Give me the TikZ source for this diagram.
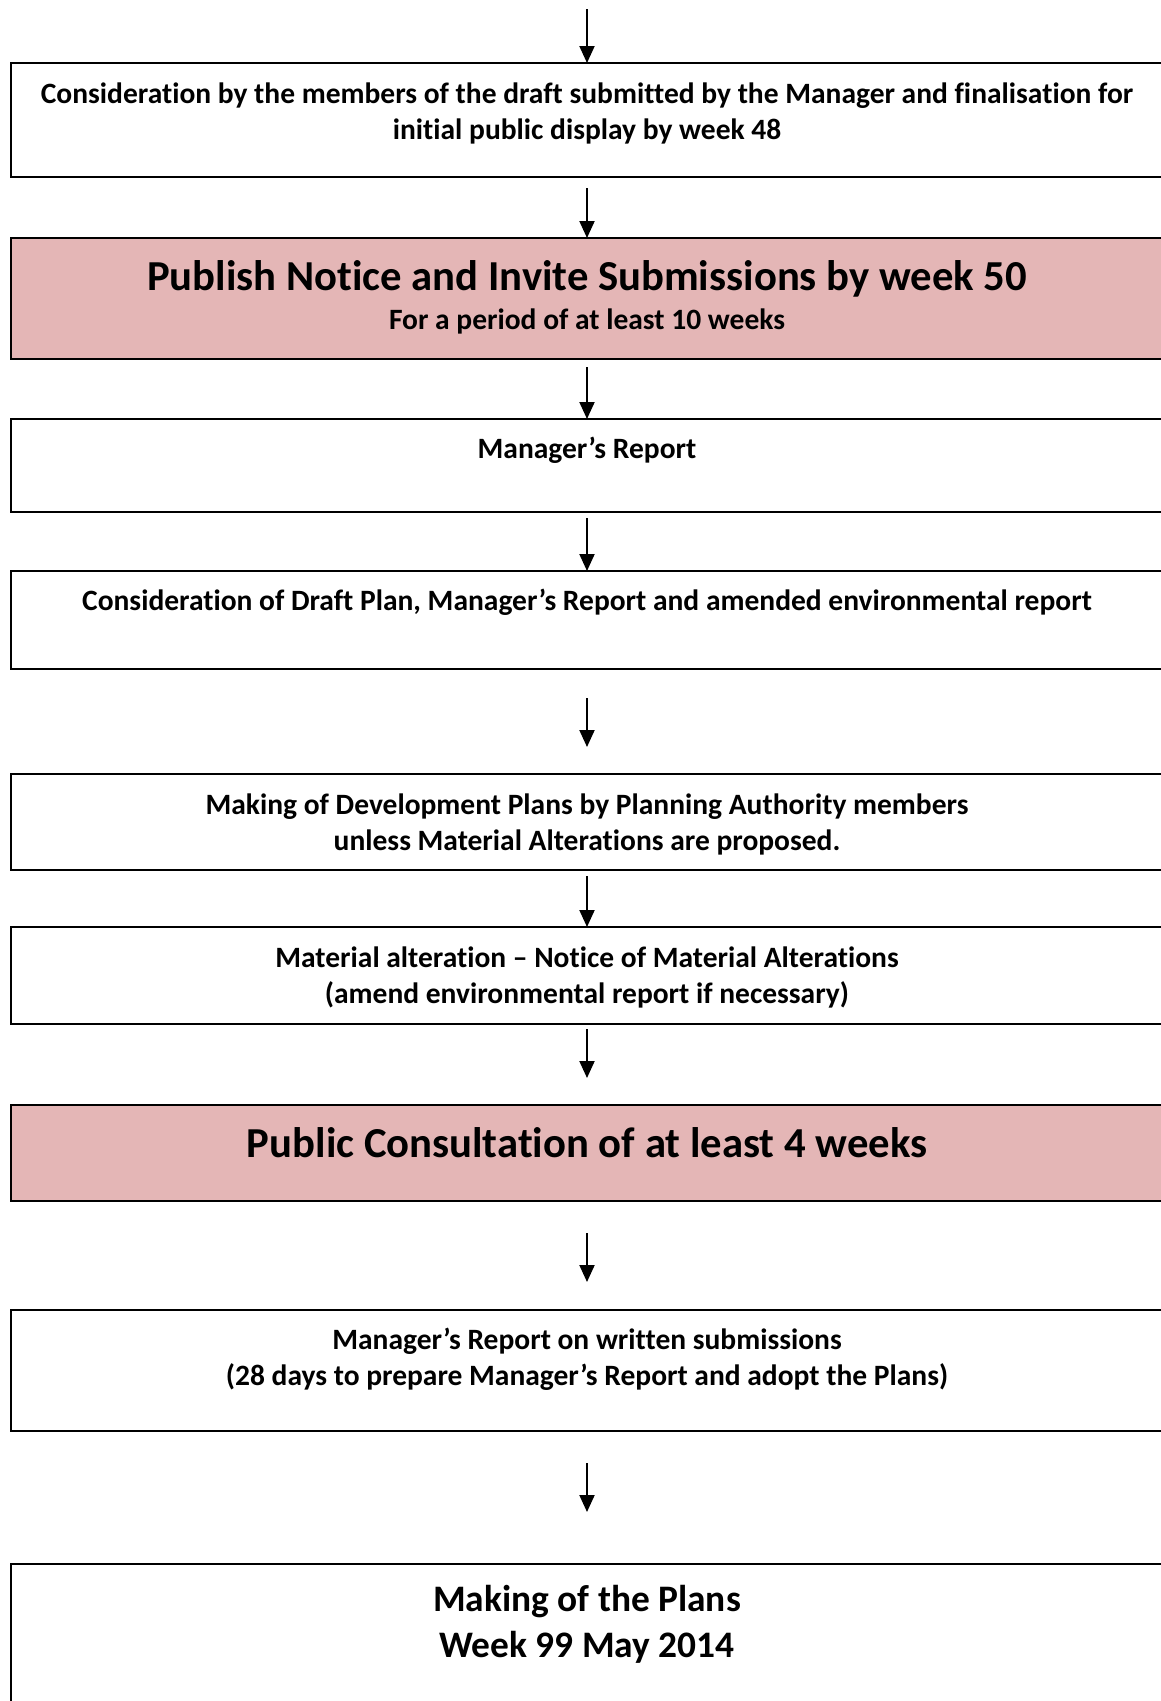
\documentclass[tikz,border=0pt]{standalone}
\usepackage{fontspec}
\setmainfont{Carlito}[Ligatures=NoCommon]
\usetikzlibrary{arrows.meta}
\definecolor{pinkfill}{HTML}{E4B6B6}
\tikzset{
  box/.style={draw=black, line width=2pt, fill=white, anchor=north west, minimum width=1152pt, inner sep=0pt, outer sep=0pt},
  pinkbox/.style={box, fill=pinkfill},
  txt/.style={font=\bfseries\fontsize{29.5}{36}\selectfont, align=center, inner sep=0pt},
  bigtxt/.style={font=\bfseries\fontsize{42.7}{46}\selectfont, align=center, inner sep=0pt},
  endtxt/.style={font=\bfseries\fontsize{37.4}{46}\selectfont, align=center, inner sep=0pt},
  arr/.style={line width=2pt, -{Triangle[width=15pt,length=17pt]}}
}
\begin{document}
\begin{tikzpicture}[x=1pt,y=-1pt]
\useasboundingbox (0,0) rectangle (1161,1701);
\clip (0,0) rectangle (1161,1701);
\fill[white] (0,0) rectangle (1161,1701);
% boxes
\node[box, minimum height=114pt] (b1) at (11,63) {};
\node[pinkbox, minimum height=121pt] (b2) at (11,238) {};
\node[box, minimum height=93pt] (b3) at (11,419) {};
\node[box, minimum height=98pt] (b4) at (11,571) {};
\node[box, minimum height=96pt] (b5) at (11,774) {};
\node[box, minimum height=97pt] (b6) at (11,927) {};
\node[pinkbox, minimum height=96pt] (b7) at (11,1105) {};
\node[box, minimum height=121pt] (b8) at (11,1310) {};
\node[box, minimum height=160pt] (b9) at (11,1564) {};
% texts
\node[txt] (t1) at (587,113) {Consideration by the members of the draft submitted by the Manager and finalisation for\\initial public display by week 48};
\node[bigtxt] (t2a) at (587,279) {Publish Notice and Invite Submissions by week 50};
\node[txt] (t2b) at (587,321) {For a period of at least 10 weeks};
\node[txt] (t3) at (587,450) {Manager’s Report};
\node[txt] (t4) at (587,602) {Consideration of Draft Plan, Manager’s Report and amended environmental report};
\node[txt] (t5) at (587,824) {Making of Development Plans by Planning Authority members\\unless Material Alterations are proposed.};
\node[txt] (t6) at (587,977) {Material alteration – Notice of Material Alterations\\(amend environmental report if necessary)};
\node[bigtxt] (t7) at (587,1143) {Public Consultation of at least 4 weeks};
\node[txt] (t8) at (587,1359) {Manager’s Report on written submissions\\(28 days to prepare Manager’s Report and adopt the Plans)};
\node[endtxt] (t9) at (587,1624) {Making of the Plans\\Week 99 May 2014};
% arrow coordinates
\coordinate (s0) at (587,9);
\coordinate (e0) at (587,63);
\coordinate (s1) at (587,188);
\coordinate (s2) at (587,367);
\coordinate (s3) at (587,518);
\coordinate (s4) at (587,698);
\coordinate (e4) at (587,747);
\coordinate (s5) at (587,876);
\coordinate (s6) at (587,1029);
\coordinate (e6) at (587,1078);
\coordinate (s7) at (587,1233);
\coordinate (e7) at (587,1282);
\coordinate (s8) at (587,1463);
\coordinate (e8) at (587,1512);
\draw[arr] (s0) -- (e0 |- b1.north);
\draw[arr] (s1) -- (s1 |- b2.north);
\draw[arr] (s2) -- (s2 |- b3.north);
\draw[arr] (s3) -- (s3 |- b4.north);
\draw[arr] (s4) -- (e4);
\draw[arr] (s5) -- (s5 |- b6.north);
\draw[arr] (s6) -- (e6);
\draw[arr] (s7) -- (e7);
\draw[arr] (s8) -- (e8);
\end{tikzpicture}
\end{document}
